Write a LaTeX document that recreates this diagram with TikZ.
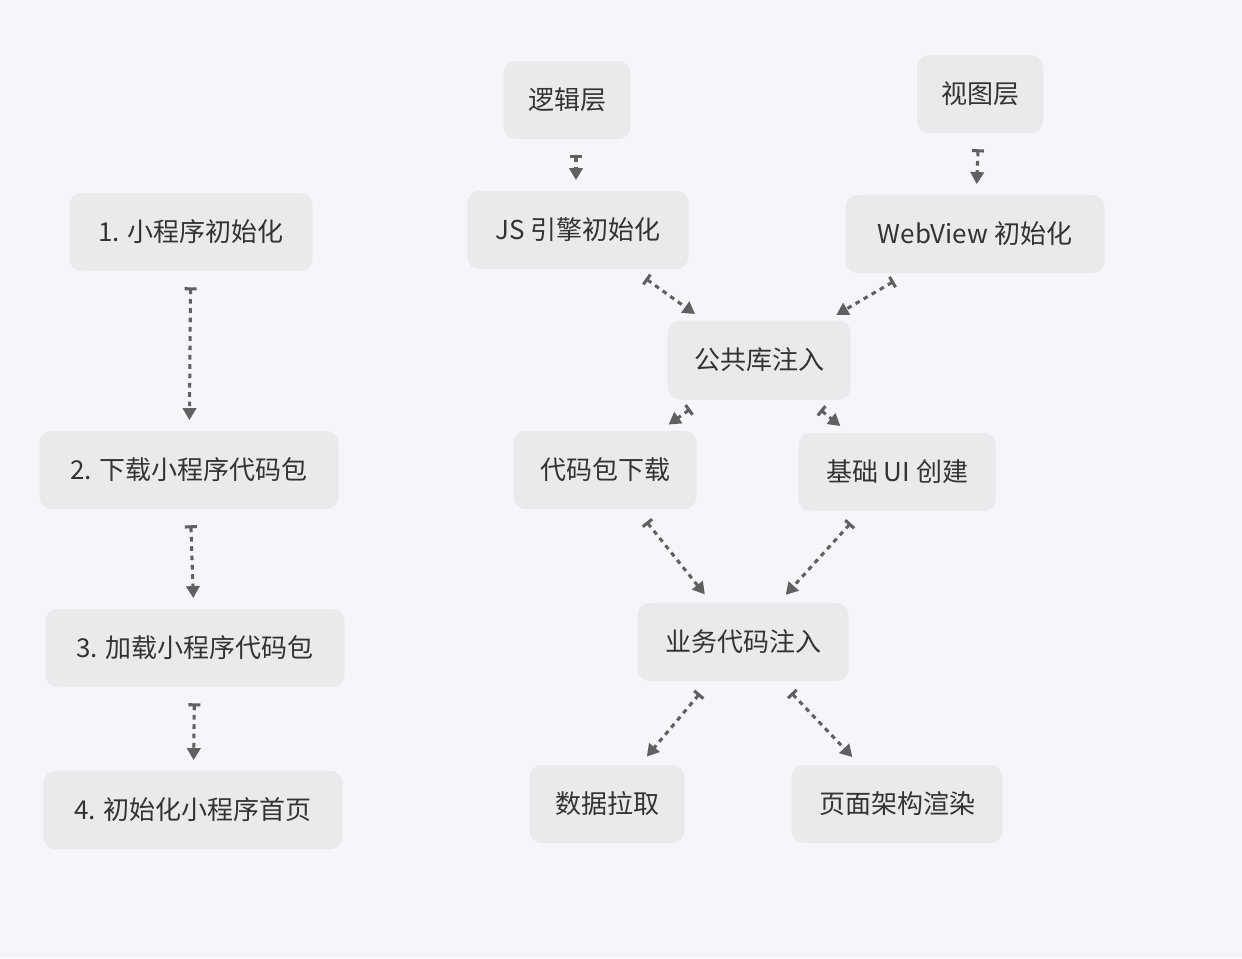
\documentclass[tikz,border=0pt]{standalone}
\usepackage{fontspec}
\setmainfont{Noto Sans CJK SC}
\usetikzlibrary{arrows.meta}
\definecolor{bg}{HTML}{F5F5FA}
\definecolor{box}{HTML}{EAEAEC}
\definecolor{ar}{HTML}{606060}
\definecolor{tx}{HTML}{333333}
\tikzset{
  bx/.style={fill=box,rounded corners=9pt,text=tx,font=\fontsize{19.5}{23}\selectfont,inner sep=0pt,anchor=center},
  con/.style={draw=ar,line width=2.3pt,dash pattern=on 3.5pt off 3.5pt,
    {Bar[width=9pt,line width=2.3pt]}-{Triangle[length=9pt,width=10pt]},shorten <=12pt,shorten >=8pt}
}
\begin{document}
\begin{tikzpicture}[x=0.75pt,y=-0.75pt]
\fill[bg] (0,0) rectangle (1242,958);
\useasboundingbox (0,0) rectangle (1242,958);
\newcommand{\bnode}[5]{\node[bx,minimum width=#3*0.75pt,minimum height=#4*0.75pt] (#1) at #2 {#5};}
\bnode{lj}{(567,100)}{127}{78}{逻辑层}
\bnode{st}{(980,94)}{126}{78}{视图层}
\bnode{s1}{(191,232)}{243}{78}{1. 小程序初始化}
\bnode{js}{(578,230)}{221}{78}{JS 引擎初始化}
\bnode{wv}{(975,234)}{259}{78}{WebView 初始化}
\bnode{gg}{(759,360)}{183}{79}{公共库注入}
\bnode{s2}{(189,470)}{299}{78}{2. 下载小程序代码包}
\bnode{dm}{(605,470)}{183}{78}{代码包下载}
\bnode{jc}{(897,472)}{197}{78}{基础 UI 创建}
\bnode{s3}{(195,648)}{299}{78}{3. 加载小程序代码包}
\bnode{yw}{(743,642)}{211}{78}{业务代码注入}
\bnode{s4}{(193,810)}{299}{78}{4. 初始化小程序首页}
\bnode{sj}{(607,804)}{155}{78}{数据拉取}
\bnode{ym}{(897,804)}{211}{78}{页面架构渲染}
\draw[con] (s1) -- (s2);
\draw[con] (s2) -- (s3);
\draw[con] (s3) -- (s4);
\draw[con] (lj.south -| 576,0) -- (js.north -| 576,0);
\draw[con] (st) -- (wv);
\draw[con] (js) -- (gg);
\draw[con] (wv) -- (gg);
\draw[con] (gg) -- (dm);
\draw[con] (gg) -- (jc);
\draw[con] (dm) -- (yw);
\draw[con] (jc) -- (yw);
\draw[con] (yw) -- (sj);
\draw[con] (yw) -- (ym);
\end{tikzpicture}
\end{document}
